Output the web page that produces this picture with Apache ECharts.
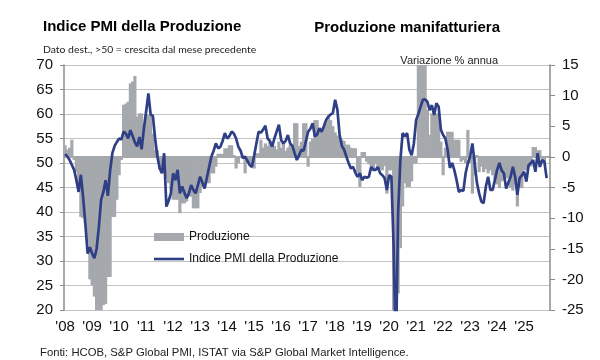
<!DOCTYPE html>
<html><head><meta charset="utf-8">
<script src="https://cdn.jsdelivr.net/npm/echarts@6/dist/echarts.min.js"></script>
<style>html,body{margin:0;padding:0;background:#fff}#c{width:600px;height:360px}</style>
</head><body><div id="c"></div>
<script>
// Months Jan 2008 .. Dec 2025
const firstYear = 2008, lastYear = 2025;
const months = [];
for (let y = firstYear; y <= lastYear; y++) for (let m = 1; m <= 12; m++) months.push(y + '-' + (m < 10 ? '0' : '') + m);

// Indice PMI della Produzione (left axis), Jan 2008 .. Nov 2025
const pmi = [
  51.8, 51.3, 50.6, 49.6, 48.6, 46.5, 44.1, 47.6, 43.0, 37.5, 31.5, 32.8, // 2008
  31.5, 30.6, 32.5, 37.0, 42.5, 44.1, 46.5, 43.3, 48.5, 52.0, 53.5, 54.3, // 2009
  55.0, 54.8, 56.4, 56.0, 55.0, 56.7, 55.5, 54.2, 53.4, 55.3, 52.8, 57.0, // 2010
  60.5, 64.2, 59.9, 59.6, 55.0, 51.3, 49.0, 47.9, 52.0, 41.1, 42.3, 43.8, // 2011
  47.9, 46.5, 48.6, 43.8, 45.2, 44.0, 42.8, 43.8, 45.5, 44.5, 43.8, 45.5, // 2012
  47.2, 46.0, 44.8, 47.0, 49.2, 51.3, 52.5, 54.0, 53.0, 53.3, 54.5, 56.1, // 2013
  55.0, 55.5, 56.4, 56.0, 55.0, 53.3, 52.5, 51.0, 51.3, 50.5, 49.6, 49.2, // 2014
  51.5, 54.0, 56.4, 56.2, 56.8, 57.6, 55.0, 54.5, 53.3, 55.0, 56.4, 57.8, // 2015
  54.7, 54.0, 54.5, 55.7, 54.0, 53.5, 52.0, 50.6, 51.6, 52.7, 52.5, 54.4, // 2016
  56.4, 57.0, 58.1, 55.4, 55.8, 57.1, 56.4, 57.5, 58.8, 59.5, 59.9, 60.2, // 2017
  62.9, 60.9, 55.7, 53.5, 52.7, 51.3, 50.0, 48.9, 49.2, 48.0, 47.2, 47.9, // 2018
  46.5, 47.2, 47.0, 47.2, 49.2, 48.6, 48.6, 49.2, 47.9, 47.5, 46.9, 44.5, // 2019
  47.5, 47.2, 33.0, 10.0, 40.0, 50.6, 56.1, 55.4, 56.1, 52.7, 51.6, 54.0, // 2020
  58.8, 60.0, 61.5, 62.9, 63.0, 62.5, 60.8, 61.8, 59.8, 62.2, 61.5, 56.8, // 2021
  55.7, 55.0, 52.7, 49.0, 50.0, 48.5, 46.5, 44.1, 44.5, 44.3, 47.9, 50.0, // 2022
  51.3, 54.0, 50.0, 46.0, 43.8, 42.1, 41.8, 45.2, 47.2, 44.5, 44.5, 46.5, // 2023
  48.6, 50.0, 48.5, 47.9, 44.8, 46.0, 47.2, 49.2, 47.2, 43.5, 46.9, 47.5, // 2024
  48.2, 46.2, 49.6, 50.0, 50.6, 48.2, 52.0, 49.2, 50.6, 50.3, 46.9        // 2025
];

// Produzione manifatturiera, variazione % annua (right axis), Jan 2008 .. Oct 2025
const produzione = [
  1.9, 1.2, 1.5, 2.8, -0.5, -2.5, -5.0, -9.8, -10.0, -11.0, -14.0, -20.0, // 2008
  -21.0, -22.8, -26.0, -27.0, -25.0, -24.2, -24.0, -19.6, -19.6, -9.8, -9.8, -7.0, // 2009
  -3.0, -0.5, 8.5, 8.7, 9.0, 12.0, 12.3, 13.2, 6.6, 7.1, 7.1, 5.0, // 2010
  6.9, 6.9, 6.9, 3.8, 1.1, 1.1, -2.1, -2.5, -2.7, -3.5, -4.3, -5.5, // 2011
  -7.0, -7.0, -7.0, -9.2, -7.6, -7.6, -7.3, -6.5, -6.5, -8.4, -8.4, -8.4, // 2012
  -5.9, -4.9, -4.9, -4.3, -4.3, -2.7, -2.7, -1.6, 0.5, 0.5, 0.5, 1.4, // 2013
  1.4, 1.9, 1.9, 0.3, -1.9, -1.0, 0.0, 0.2, -2.7, -1.1, -1.1, -1.1, // 2014
  -1.9, 0.6, 0.6, 2.8, 1.5, 2.2, 1.8, 2.5, 1.5, 1.8, 1.2, 2.5, // 2015
  1.5, 2.5, 1.0, 1.5, 2.0, 1.5, 5.5, 5.5, 1.8, 2.5, 5.5, 5.5, // 2016
  -1.6, 2.5, 3.0, 6.0, 6.0, 4.6, 4.6, 4.8, 5.5, 6.5, 6.0, 5.0, // 2017
  4.0, 3.5, 2.8, 2.8, 2.6, 2.0, 2.0, 1.5, 1.4, 1.4, -2.6, -4.9, // 2018
  0.8, 0.8, -0.8, -1.2, -1.5, -2.0, -1.2, -1.5, -2.0, -2.2, -1.5, -6.0, // 2019
  -2.2, -2.2, -30.0, -43.0, -22.3, -14.9, -8.1, -4.3, -4.9, -4.9, -4.0, -1.1, // 2020
  -1.1, 16.0, 38.0, 79.0, 21.0, 7.7, 3.6, 7.1, 7.1, 7.1, 7.1, 2.5, // 2021
  -3.0, 1.5, 4.1, 4.1, 4.1, 2.8, 2.8, 2.8, -0.8, -0.5, -1.0, 4.4, // 2022
  -1.0, -6.0, -3.0, 0.3, -2.5, -1.6, -2.5, -2.0, -2.7, -2.2, -3.0, -3.8, // 2023
  -4.5, -5.1, -4.0, -3.8, -3.5, -3.5, -5.0, -5.5, -4.5, -8.1, -5.1, -5.1, // 2024
  -2.2, -2.2, -1.6, -1.6, 1.6, 1.6, 1.1, 1.1, -0.5, -1.1 // 2025
];

const leftTicks = { min: 20, max: 70, interval: 5 };
const rightTicks = { min: -25, max: 15, interval: 5 };

const FONT = '"Liberation Sans", Arial, sans-serif';
const axisGray = '#8c8c8c';
const lineBlue = '#2f3f86';

const chart = echarts.init(document.getElementById('c'), null, { renderer: 'canvas' });
chart.setOption({
  animation: false,
  backgroundColor: '#fff',
  textStyle: { fontFamily: FONT },
  grid: { left: 64, right: 50, top: 65, bottom: 50, containLabel: false },
  legend: {
    orient: 'vertical', left: 149, top: 226, padding: 5,
    itemWidth: 30, itemHeight: 8, itemGap: 10,
    textStyle: { fontSize: 12, color: '#111', fontFamily: FONT },
    data: [
      { name: 'Produzione', icon: 'rect' },
      { name: 'Indice PMI della Produzione', icon: 'path://M0,0 H30 V2.6 H0 Z', itemStyle: { color: lineBlue } }
    ]
  },
  xAxis: {
    type: 'category', data: months, boundaryGap: true,
    axisLine: { lineStyle: { color: axisGray, width: 1.5 } },
    axisTick: { interval: (i) => i % 12 === 0, length: 5, lineStyle: { color: axisGray, width: 1.2 } },
    axisLabel: { interval: (i) => i % 12 === 0, formatter: (v) => "'" + v.slice(2, 4), fontSize: 15, color: '#111', margin: 9, fontFamily: FONT },
    splitLine: { show: false }
  },
  yAxis: [
    {
      type: 'value', position: 'left', min: leftTicks.min, max: leftTicks.max, interval: leftTicks.interval,
      axisLine: { show: true, lineStyle: { color: axisGray, width: 1.5 } },
      axisTick: { show: true, length: 4, lineStyle: { color: axisGray } },
      axisLabel: { fontSize: 15, color: '#111', margin: 11, fontFamily: FONT },
      splitLine: { show: true, lineStyle: { color: '#c2c2c2', width: 1.2 } }
    },
    {
      type: 'value', position: 'right', min: rightTicks.min, max: rightTicks.max, interval: rightTicks.interval,
      axisLine: { show: true, lineStyle: { color: axisGray, width: 1.5 } },
      axisTick: { show: true, length: 5, lineStyle: { color: axisGray } },
      axisLabel: { fontSize: 15, color: '#111', margin: 12, fontFamily: FONT },
      splitLine: { show: false }
    }
  ],
  series: [
    {
      name: 'Produzione', type: 'bar', yAxisIndex: 1, data: produzione,
      barWidth: 3.2, clip: true,
      itemStyle: { color: '#a5a8ac' }, z: 1
    },
    {
      name: 'Indice PMI della Produzione', type: 'line', yAxisIndex: 0, data: pmi,
      symbol: 'none', clip: true,
      lineStyle: { color: lineBlue, width: 2.7 }, itemStyle: { color: lineBlue }, z: 3
    }
  ],
  graphic: [
    { type: 'text', left: 43, top: 19, style: { text: 'Indice PMI della Produzione', font: 'bold 15px ' + FONT, fill: '#000' } },
    { type: 'text', left: 43, top: 45, style: { text: 'Dato dest., >50 = crescita dal mese precedente', font: '10.4px Lato, "Liberation Sans", sans-serif', fill: '#222' } },
    { type: 'text', right: 100, top: 20, style: { text: 'Produzione manifatturiera', font: 'bold 15px ' + FONT, fill: '#000' } },
    { type: 'text', right: 102, top: 55, style: { text: 'Variazione % annua', font: '11px ' + FONT, fill: '#222' } },
    { type: 'text', left: 40, top: 347, style: { text: 'Fonti: HCOB, S&P Global PMI, ISTAT via S&P Global Market Intelligence.', font: '11.3px ' + FONT, fill: '#222' } }
  ]
});
</script>
</body></html>
